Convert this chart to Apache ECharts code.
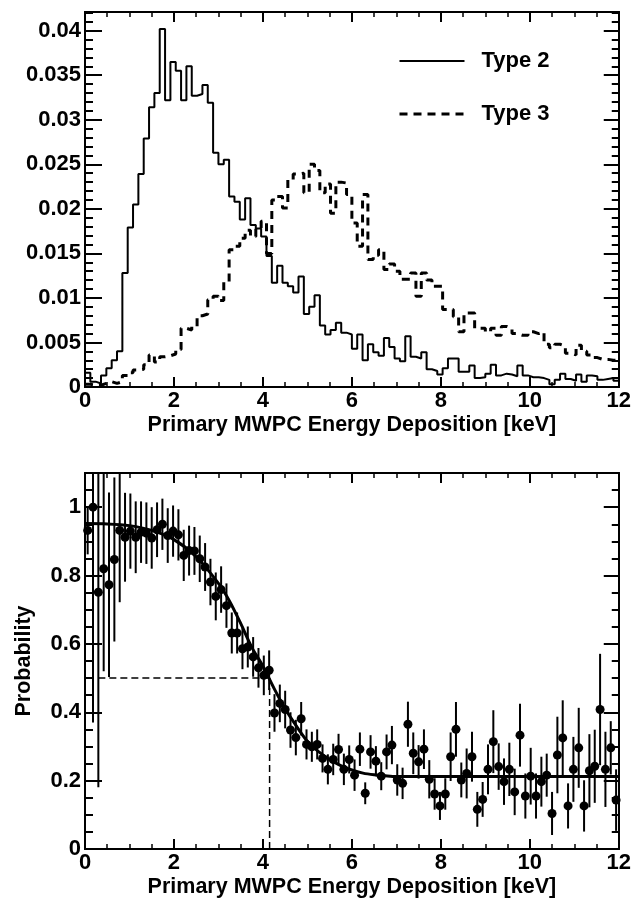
<!DOCTYPE html>
<html><head><meta charset="utf-8">
<script src="https://cdn.jsdelivr.net/npm/echarts@6/dist/echarts.min.js"></script>
<style>html,body{margin:0;padding:0;background:#fff}#c{width:634px;height:903px}</style>
</head><body><div id="c"></div>
<script>
// ---------- data ----------
const binWidth = 0.12; // keV, 100 bins over 0-12
const xTickLabels = ['0','2','4','6','8','10','12'];
const seriesNames = ['Type 2', 'Type 3'];
const type2 = [
0.0016,0.0006,0.0004,0.0013,0.0021,0.0030,0.0040,0.0128,0.0179,0.0205,
0.0239,0.0279,0.0314,0.0330,0.0402,0.0322,0.0365,0.0355,0.0322,0.0360,
0.0327,0.0329,0.0339,0.0319,0.0263,0.0250,0.0255,0.0214,0.0208,0.0188,
0.0212,0.0182,0.0178,0.0169,0.0147,0.0117,0.0136,0.0117,0.0113,0.0106,
0.0124,0.0082,0.0090,0.0103,0.0069,0.0059,0.0064,0.0072,0.0061,0.0059,
0.0043,0.0059,0.0030,0.0048,0.0039,0.0035,0.0055,0.0045,0.0032,0.0029,
0.0057,0.0034,0.0032,0.0039,0.0020,0.0018,0.0014,0.0021,0.0032,0.0032,
0.0017,0.0017,0.0024,0.0010,0.0011,0.0015,0.0025,0.0013,0.0015,0.0014,
0.0012,0.0024,0.0013,0.0011,0.0011,0.0010,0.0008,0.0003,0.0008,0.0015,
0.0009,0.0007,0.0014,0.0006,0.0013,0.0012,0.0008,0.0009,0.0010,0.0007];
const type3 = [
0.0003,0.0002,0.0002,0.0004,0.0006,0.0004,0.0006,0.0013,0.0016,0.0019,
0.0020,0.0025,0.0036,0.0028,0.0034,0.0035,0.0037,0.0042,0.0066,0.0064,
0.0068,0.0080,0.0082,0.0098,0.0102,0.0097,0.0118,0.0154,0.0158,0.0167,
0.0176,0.0169,0.0178,0.0186,0.0150,0.0210,0.0214,0.0201,0.0233,0.0239,
0.0240,0.0218,0.0250,0.0243,0.0218,0.0228,0.0195,0.0230,0.0229,0.0216,
0.0184,0.0158,0.0216,0.0143,0.0148,0.0154,0.0132,0.0138,0.0130,0.0121,
0.0121,0.0128,0.0102,0.0128,0.0120,0.0113,0.0113,0.0087,0.0087,0.0079,
0.0062,0.0083,0.0083,0.0066,0.0066,0.0062,0.0066,0.0058,0.0068,0.0066,
0.0060,0.0058,0.0058,0.0062,0.0060,0.0062,0.0048,0.0044,0.0048,0.0046,
0.0038,0.0036,0.0047,0.0040,0.0036,0.0033,0.0031,0.0031,0.0030,0.0030];
const probability = [
0.932,1.000,0.751,0.820,0.773,0.847,0.932,0.912,0.930,0.912,
0.927,0.924,0.910,0.934,0.950,0.917,0.930,0.919,0.859,0.873,
0.872,0.849,0.825,0.781,0.739,0.759,0.712,0.632,0.632,0.586,
0.591,0.562,0.530,0.508,0.523,0.398,0.426,0.408,0.348,0.326,
0.381,0.306,0.299,0.306,0.265,0.233,0.262,0.291,0.233,0.262,
0.216,0.292,0.163,0.284,0.257,0.213,0.284,0.304,0.202,0.192,
0.365,0.280,0.255,0.292,0.204,0.161,0.126,0.161,0.270,0.350,
0.202,0.221,0.270,0.116,0.145,0.233,0.314,0.241,0.197,0.233,
0.167,0.333,0.155,0.213,0.155,0.197,0.216,0.104,0.275,0.325,
0.126,0.233,0.296,0.126,0.229,0.242,0.408,0.233,0.296,0.143];
const probErr = [
0.07,0.63,0.57,0.30,0.27,0.24,0.21,0.13,0.11,0.105,
0.09,0.09,0.09,0.08,0.075,0.08,0.075,0.075,0.075,0.073,
0.07,0.068,0.07,0.068,0.07,0.068,0.065,0.06,0.06,0.06,
0.06,0.058,0.058,0.058,0.058,0.055,0.055,0.055,0.052,0.052,
0.049,0.044,0.044,0.044,0.041,0.044,0.046,0.046,0.046,0.041,
0.046,0.049,0.032,0.049,0.044,0.041,0.051,0.056,0.046,0.046,
0.066,0.061,0.049,0.058,0.056,0.046,0.041,0.046,0.071,0.080,
0.051,0.073,0.073,0.051,0.051,0.073,0.092,0.068,0.068,0.078,
0.068,0.092,0.066,0.083,0.066,0.073,0.063,0.063,0.112,0.110,
0.066,0.095,0.117,0.075,0.107,0.107,0.163,0.110,0.078,0.090];
const fitE = [0,0.5,1.0,1.5,2.0,2.5,3.0,3.25,3.5,3.75,4.0,4.25,4.5,4.75,5.0,5.25,5.5,5.75,6.0,6.25,6.5,6.75,7.0,8.0,10.0,12.0];
const fitP = [0.952,0.951,0.946,0.932,0.905,0.855,0.777,0.725,0.66,0.59,0.535,0.47,0.41,0.36,0.315,0.285,0.262,0.244,0.231,0.222,0.217,0.214,0.212,0.212,0.212,0.212];
const cutEnergy = 4.15, cutProb = 0.5, cutStart = 0.3;
const xMax = 12, yMaxTop = 0.0421, yMaxBottom = 1.1;

// ---------- build ----------
const FONT = "'Liberation Sans', Arial, Helvetica, sans-serif";
const hist = v => { const d = v.map((y,i)=>[i*binWidth, y]); d.push([xMax, v[v.length-1]]); return d; };
const centers = probability.map((p,i)=>[(i+0.5)*binWidth, p, probErr[i]]);

const lbl = {show:true, color:'#000', fontFamily:FONT, fontWeight:'bold', fontSize:22};
const titleStyle = {color:'#000', fontFamily:FONT, fontWeight:'bold', fontSize:21.5};
function xAx(grid, pos, labels){
  return {type:'value', gridIndex:grid, position:pos, min:0, max:xMax, interval:2,
    axisLine:{show:true, onZero:false, lineStyle:{color:'#000', width:2}},
    axisTick:{show:true, inside:true, length:10, lineStyle:{color:'#000', width:2}},
    minorTick:{show:true, splitNumber:4, length:5, lineStyle:{color:'#000', width:1.5}},
    splitLine:{show:false}, minorSplitLine:{show:false},
    axisLabel: labels ? Object.assign({}, lbl, {margin:3, formatter:v=>xTickLabels[Math.round(v/2)]}) : {show:false},
    name: labels ? 'Primary MWPC Energy Deposition [keV]' : '',
    nameLocation:'middle', nameGap:27, nameTextStyle:titleStyle};
}
function yAx(grid, pos, max, interval, len, labels, name){
  return {type:'value', gridIndex:grid, position:pos, min:0, max:max, interval:interval,
    axisLine:{show:true, onZero:false, lineStyle:{color:'#000', width:2}},
    axisTick:{show:true, inside:true, length:len, lineStyle:{color:'#000', width:2}},
    splitLine:{show:false},
    axisLabel: labels ? Object.assign({}, lbl, {margin:4, showMaxLabel:false}) : {show:false},
    name: name || '', nameLocation:'middle', nameGap:50, nameRotate:90, nameTextStyle:titleStyle};
}

const option = {
  animation:false, backgroundColor:'#fff',
  grid:[{left:85, top:12, width:535, height:375},{left:85, top:473, width:535, height:376}],
  legend:{orient:'vertical', left:393, top:45, itemWidth:65, itemHeight:16, itemGap:31,
    data:[{name:seriesNames[0], lineStyle:{width:2, type:'solid'}},
          {name:seriesNames[1], lineStyle:{width:3, type:[8,6]}}],
    itemStyle:{opacity:0},
    textStyle:{color:'#000', fontFamily:FONT, fontWeight:'bold', fontSize:22, padding:[0,0,0,12]}},
  xAxis:[xAx(0,'bottom',true), xAx(0,'top',false), xAx(1,'bottom',true), xAx(1,'top',false)],
  yAxis:[
    yAx(0,'left',yMaxTop,0.005,17,true), yAx(0,'left',yMaxTop,0.001,8,false),
    yAx(0,'right',yMaxTop,0.005,15,false), yAx(0,'right',yMaxTop,0.001,7,false),
    yAx(1,'left',yMaxBottom,0.2,17,true,'Probability'), yAx(1,'left',yMaxBottom,0.05,8,false),
    yAx(1,'right',yMaxBottom,0.2,15,false), yAx(1,'right',yMaxBottom,0.05,7,false)],
  series:[
    {name:seriesNames[0], type:'line', xAxisIndex:0, yAxisIndex:0, step:'end', symbol:'none', data:hist(type2),
      lineStyle:{color:'#000', width:2}, itemStyle:{color:'#000'}},
    {name:seriesNames[1], type:'line', xAxisIndex:0, yAxisIndex:0, step:'end', symbol:'none', data:hist(type3),
      lineStyle:{color:'#000', width:3, type:[8,6]}, itemStyle:{color:'#000'}},
    {type:'custom', xAxisIndex:2, yAxisIndex:4, data:centers, z:3,
      renderItem:(params, api)=>{
        const x=api.value(0), y=api.value(1), e=api.value(2);
        const a=api.coord([x, Math.max(0,y-e)]), b=api.coord([x, Math.min(yMaxBottom,y+e)]);
        return {type:'line', shape:{x1:a[0],y1:a[1],x2:b[0],y2:b[1]}, style:{stroke:'#000', lineWidth:2}};
      }},
    {type:'scatter', xAxisIndex:2, yAxisIndex:4, data:centers.map(d=>[d[0],d[1]]), symbol:'circle', symbolSize:9,
      itemStyle:{color:'#000', opacity:1}, z:4},
    {type:'line', xAxisIndex:2, yAxisIndex:4, data:fitE.map((e,i)=>[e,fitP[i]]), smooth:0.3, symbol:'none',
      lineStyle:{color:'#000', width:3}, z:5},
    {type:'line', xAxisIndex:2, yAxisIndex:4, data:[[cutStart,cutProb],[cutEnergy,cutProb]], symbol:'none',
      lineStyle:{color:'#000', width:1.5, type:[7,4]}},
    {type:'line', xAxisIndex:2, yAxisIndex:4, data:[[cutEnergy,0],[cutEnergy,cutProb]], symbol:'none',
      lineStyle:{color:'#000', width:1.5, type:[7,4]}}
  ]
};
echarts.init(document.getElementById('c'), null, {renderer:'canvas'}).setOption(option);
</script></body></html>
